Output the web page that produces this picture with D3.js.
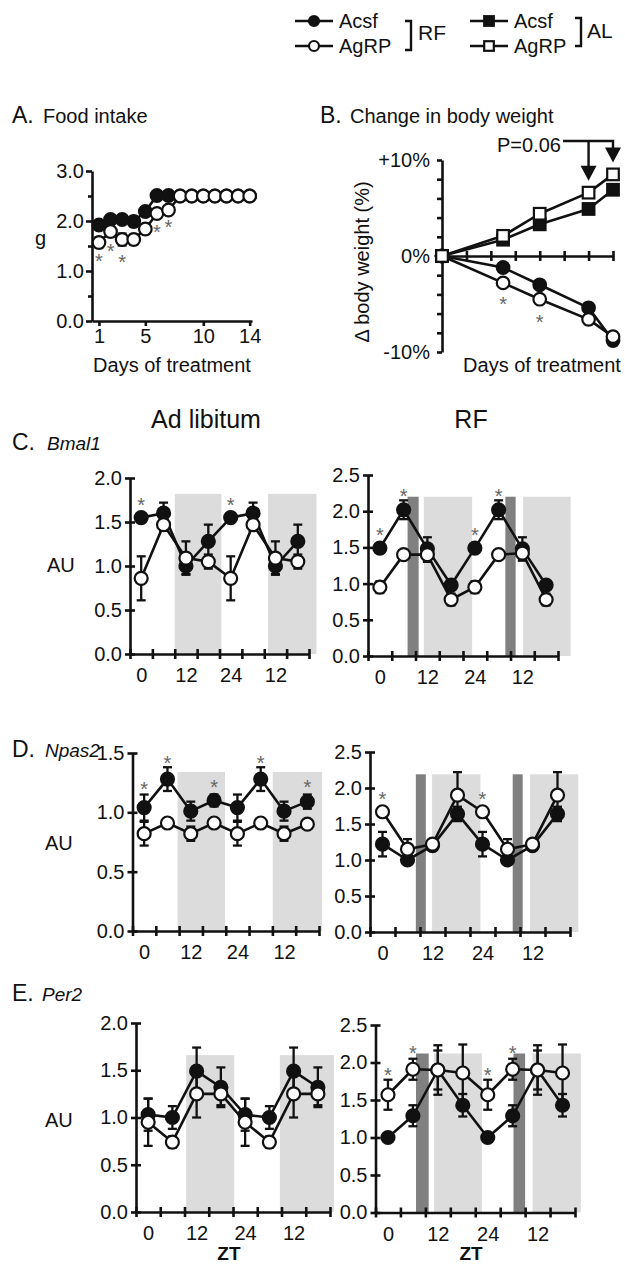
<!DOCTYPE html>
<html><head><meta charset="utf-8">
<script src="https://cdn.jsdelivr.net/npm/d3@7"></script>
<style>body{margin:0;background:#fff;}</style>
</head><body>
<svg id="fig" width="625" height="1264"></svg>
<script>
// ---------------- DATA ----------------
const foodDays = [1,2,3,4,5,6,7,8,9,10,11,12,13,14];
const foodAcsf = [1.92,2.03,2.03,1.99,2.19,2.51,2.51,2.5,2.5,2.5,2.5,2.5,2.5,2.5];
const foodAcsfErr = [0.07,0.05,0.06,0.1,0.08,0.04,0.04,0,0,0,0,0,0,0];
const foodAgrp = [1.57,1.79,1.63,1.63,1.84,2.15,2.22,2.5,2.5,2.5,2.5,2.5,2.5,2.5];
const foodAgrpErr = [0.1,0.1,0.12,0.1,0.1,0.08,0.05,0,0,0,0,0,0,0];
const foodStarDays = [1,2,3,6,7];
const foodStarY = [1.28,1.48,1.27,1.86,1.96];
const foodXTicks = [1,5,10,14];
const foodYTicks = [0,1,2,3];

const bwDays = [0,5,8,12,14];
const bwRFAcsf = [0,-1.2,-3.0,-5.4,-8.8];
const bwRFAgrp = [0,-2.8,-4.5,-6.6,-8.4];
const bwALAcsf = [0,1.7,3.3,4.9,6.9];
const bwALAgrp = [0,2.1,4.4,6.6,8.5];
const bwErr = [0,0.4,0.4,0.5,0.5];
const bwStarDays = [5,8];
const bwStarY = [-4.6,-6.5];
const bwYTickLabels = {"10":"+10%","0":"0%","-10":"-10%"};
const bwArrowDays = [12,14];

const ztHours = [0,6,12,18,24,30,36,42];
const ztTickLabels = ["0","12","24","12"];
const ztTickLabelHours = [0,12,24,36];
const ztMinorTicks = [-3,3,9,15,21,27,33,39,45];

const bmal1ALAcsf = [1.55,1.6,1.0,1.28,1.55,1.6,1.0,1.28];
const bmal1ALAcsfErr = [0.04,0.12,0.09,0.19,0.04,0.12,0.09,0.19];
const bmal1ALAgrp = [0.86,1.47,1.09,1.05,0.86,1.47,1.09,1.05];
const bmal1ALAgrpErr = [0.25,0.07,0.19,0.08,0.25,0.07,0.19,0.08];
const bmal1ALStars = [[0,1.74],[24,1.74]];

const bmal1RFAcsf = [1.49,2.02,1.48,0.98,1.49,2.02,1.48,0.98];
const bmal1RFAcsfErr = [0.05,0.13,0.16,0.05,0.05,0.13,0.16,0.05];
const bmal1RFAgrp = [0.95,1.40,1.40,0.78,0.95,1.40,1.42,0.78];
const bmal1RFAgrpErr = [0.08,0.05,0.1,0.08,0.08,0.05,0.1,0.08];
const bmal1RFStars = [[0,1.72],[6,2.27],[24,1.72],[30,2.27]];

const npas2ALAcsf = [1.04,1.28,1.01,1.10,1.04,1.28,1.01,1.09];
const npas2ALAcsfErr = [0.11,0.1,0.08,0.05,0.11,0.1,0.08,0.06];
const npas2ALAgrp = [0.82,0.91,0.82,0.91,0.82,0.91,0.82,0.90];
const npas2ALAgrpErr = [0.1,0.03,0.06,0.03,0.1,0.03,0.06,0.03];
const npas2ALStars = [[0,1.23],[6,1.45],[18,1.25],[30,1.45],[42,1.25]];

const npas2RFAcsf = [1.22,1.0,1.2,1.64,1.22,1.0,1.2,1.64];
const npas2RFAcsfErr = [0.17,0.05,0.06,0.1,0.17,0.05,0.06,0.1];
const npas2RFAgrp = [1.67,1.15,1.22,1.90,1.67,1.15,1.22,1.90];
const npas2RFAgrpErr = [0.05,0.14,0.05,0.32,0.05,0.14,0.05,0.32];
const npas2RFStars = [[0,1.9],[24,1.9]];

const per2ALAcsf = [1.03,1.0,1.49,1.32,1.03,1.0,1.49,1.32];
const per2ALAcsfErr = [0.17,0.12,0.25,0.21,0.17,0.12,0.25,0.21];
const per2ALAgrp = [0.95,0.74,1.25,1.25,0.95,0.74,1.25,1.25];
const per2ALAgrpErr = [0.25,0.06,0.25,0.12,0.25,0.06,0.25,0.12];
const per2ALStars = [];

const per2RFAcsf = [1.0,1.29,1.9,1.43,1.0,1.29,1.9,1.43];
const per2RFAcsfErr = [0.03,0.14,0.33,0.15,0.03,0.14,0.33,0.15];
const per2RFAgrp = [1.57,1.91,1.9,1.86,1.57,1.91,1.9,1.86];
const per2RFAgrpErr = [0.2,0.14,0.26,0.38,0.2,0.14,0.26,0.38];
const per2RFStars = [[0,1.89],[6,2.18],[24,1.89],[30,2.18]];

// shading (ZT intervals)
const bmal1ALLight = [[9,21.5],[34,47]];
const bmal1RFLight = [[11.1,23.3],[36.2,48.2]];
const bmal1RFDark = [[7,9.8],[31.7,34.3]];
const npas2ALLight = [[8.6,20.8],[33.1,45.8]];
const npas2RFLight = [[11.9,23.5],[35.4,47]];
const npas2RFDark = [[8.0,10.4],[31.25,33.65]];
const per2ALLight = [[9.4,21.3],[32.6,46]];
const per2RFLight = [[11.1,22.6],[34.8,46.4]];
const per2RFDark = [[6.75,9.8],[30.2,33]];

// ---------------- STYLE ----------------
const FONT = '"Liberation Sans", Arial, Helvetica, sans-serif';
const INK = "#111";
const LW = 2.6;
const STARC = "#666";
const LIGHT = "#dcdcdc";
const DARK = "#808080";
const svg = d3.select("#fig");

function label(x, y, s, o = {}) {
  return svg.append("text").attr("x", x).attr("y", y).text(s)
    .attr("font-family", FONT).attr("font-size", o.size || 20)
    .attr("text-anchor", o.anchor || "start")
    .attr("font-style", o.style || "normal")
    .attr("font-weight", o.weight || "normal")
    .attr("fill", o.fill || INK);
}
function star(g, cx, cy) {
  g.append("text").attr("x", cx).attr("y", cy + 11).text("*")
    .attr("font-family", FONT).attr("font-size", 20).attr("text-anchor", "middle").attr("fill", STARC);
}
function drawMarker(g, shape, filled, cx, cy, r) {
  const el = shape === "circle"
    ? g.append("circle").attr("cx", cx).attr("cy", cy).attr("r", r)
    : g.append("rect").attr("x", cx - r).attr("y", cy - r).attr("width", 2 * r).attr("height", 2 * r);
  el.attr("fill", filled ? INK : "#fff").attr("stroke", INK).attr("stroke-width", 2.2);
}
function drawSeries(g, xs, ys, errs, x, y, shape, filled, r) {
  const line = d3.line().x((d, i) => x(xs[i])).y(d => y(d));
  g.append("path").datum(ys).attr("d", line).attr("fill", "none")
    .attr("stroke", INK).attr("stroke-width", LW).attr("stroke-linejoin", "round");
  if (errs) ys.forEach((v, i) => {
    const e = errs[i]; if (!e) return;
    const cx = x(xs[i]), y1 = y(v + e), y2 = y(v - e);
    g.append("line").attr("x1", cx).attr("x2", cx).attr("y1", y1).attr("y2", y2)
      .attr("stroke", INK).attr("stroke-width", 2.3);
    [y1, y2].forEach(yy => g.append("line").attr("x1", cx - 4.5).attr("x2", cx + 4.5)
      .attr("y1", yy).attr("y2", yy).attr("stroke", INK).attr("stroke-width", 2.3));
  });
  ys.forEach((v, i) => drawMarker(g, shape, filled, x(xs[i]), y(v), r));
}
function styleAxis(a) {
  a.attr("font-family", FONT).attr("font-size", 20);
  a.select(".domain").attr("stroke", INK).attr("stroke-width", LW);
  a.selectAll(".tick line").attr("stroke", INK).attr("stroke-width", LW);
  a.selectAll(".tick text").attr("fill", INK);
}

// ---------------- LEGEND ----------------
function legendItem(x1, x2, y, shape, filled, text) {
  svg.append("line").attr("x1", x1).attr("x2", x2).attr("y1", y).attr("y2", y)
    .attr("stroke", INK).attr("stroke-width", LW);
  drawMarker(svg, shape, filled, (x1 + x2) / 2, y, shape === "circle" ? 5 : 4.8);
  label(x2 + 6, y + 7, text);
}
function bracket(x, y1, y2) {
  svg.append("path").attr("d", `M${x - 6},${y1}H${x}V${y2}H${x - 6}`)
    .attr("fill", "none").attr("stroke", INK).attr("stroke-width", 2.4);
}
legendItem(295, 333, 21, "circle", true, "Acsf");
legendItem(295, 333, 46, "circle", false, "AgRP");
bracket(411, 21, 50); label(418, 40, "RF", {size: 21});
legendItem(470, 508, 21, "rect", true, "Acsf");
legendItem(470, 508, 46, "rect", false, "AgRP");
bracket(581, 18, 46); label(587, 38, "AL", {size: 21});

// ---------------- PANEL A ----------------
{
  label(12, 123, "A.", {size: 23}); label(43, 123, "Food intake");
  const x = d3.scaleLinear().domain([0.4, 14.2]).range([92, 252]);
  const y = d3.scaleLinear().domain([0, 3]).range([321, 171]);
  const g = svg.append("g");
  const ya = g.append("g").attr("transform", `translate(${x(0.4)},0)`)
    .call(d3.axisLeft(y).tickValues(foodYTicks).tickFormat(d3.format(".1f")).tickSizeInner(6).tickSizeOuter(0).tickPadding(2));
  styleAxis(ya);
  const ym = g.append("g").attr("transform", `translate(${x(0.4)},0)`)
    .call(d3.axisLeft(y).tickValues([0.5, 1.5, 2.5]).tickFormat("").tickSizeInner(4).tickSizeOuter(0));
  styleAxis(ym); ym.select(".domain").remove();
  const xa = g.append("g").attr("transform", `translate(0,${y(0)})`)
    .call(d3.axisBottom(x).tickValues(foodXTicks).tickFormat(d3.format("d")).tickSizeInner(5).tickSizeOuter(0).tickPadding(3));
  styleAxis(xa);
  drawSeries(g, foodDays, foodAcsf, foodAcsfErr, x, y, "circle", true, 6.3);
  drawSeries(g, foodDays, foodAgrp, foodAgrpErr, x, y, "circle", false, 6.3);
  foodStarDays.forEach((d, i) => star(g, x(d), y(foodStarY[i])));
  label(35, 245, "g");
  label(172, 372, "Days of treatment", {anchor: "middle"});
}

// ---------------- PANEL B ----------------
{
  label(320, 123, "B.", {size: 23}); label(350, 123, "Change in body weight");
  const x = d3.scaleLinear().domain([0, 14]).range([442, 613]);
  const y = d3.scaleLinear().domain([-10, 10]).range([352, 160]);
  const g = svg.append("g");
  const ya = g.append("g").attr("transform", `translate(${x(0)},0)`)
    .call(d3.axisLeft(y).tickValues(d3.range(-10, 10.1, 2))
      .tickFormat(v => bwYTickLabels[String(Math.round(v))] || "").tickSizeInner(5).tickSizeOuter(0).tickPadding(7));
  styleAxis(ya);
  const xa = g.append("g").attr("transform", `translate(0,${y(0)})`)
    .call(d3.axisBottom(x).tickValues(d3.range(2, 14.1, 2)).tickFormat("").tickSizeInner(5).tickSizeOuter(0));
  styleAxis(xa); xa.selectAll(".tick line").attr("y1", -5);
  drawSeries(g, bwDays, bwRFAcsf, bwErr, x, y, "circle", true, 6.3);
  drawSeries(g, bwDays, bwRFAgrp, bwErr, x, y, "circle", false, 6.3);
  drawSeries(g, bwDays, bwALAcsf, bwErr, x, y, "rect", true, 5.8);
  drawSeries(g, bwDays, bwALAgrp, bwErr, x, y, "rect", false, 5.8);
  bwStarDays.forEach((d, i) => star(g, x(d), y(bwStarY[i])));
  // P=0.06 arrows
  label(497, 152, "P=0.06");
  const topY = 141;
  const xs = bwArrowDays.map(d => x(d));
  const tips = bwArrowDays.map(d => y(bwALAgrp[bwDays.indexOf(d)]) - 12);
  g.append("path").attr("d", `M563,${topY}H${xs[1]}V${tips[1] - 13}M${xs[0]},${topY}V${tips[0] - 13}`)
    .attr("fill", "none").attr("stroke", INK).attr("stroke-width", 2.4);
  xs.forEach((xx, i) => g.append("path").attr("d", `M${xx - 8},${tips[i] - 15}H${xx + 8}L${xx},${tips[i]}Z`).attr("fill", INK));
  label(0, 0, "\u0394 body weight (%)", {anchor: "middle"}).attr("transform", "translate(369,262) rotate(-90)");
  label(542, 372, "Days of treatment", {anchor: "middle"});
}

// ---------------- ZT PANELS ----------------
function ztPanel(c, d) {
  const x = d3.scaleLinear().domain([-3, 45]).range(c.xr);
  const y = d3.scaleLinear().domain([0, c.ymax]).range(c.yr);
  const g = svg.append("g");
  d.light.forEach(([a, b]) => g.append("rect").attr("x", x(a)).attr("y", y(c.shadeTop))
    .attr("width", x(b) - x(a)).attr("height", y(0) - y(c.shadeTop)).attr("fill", LIGHT));
  (d.dark || []).forEach(([a, b]) => g.append("rect").attr("x", x(a)).attr("y", y(c.shadeTop))
    .attr("width", x(b) - x(a)).attr("height", y(0) - y(c.shadeTop)).attr("fill", DARK));
  const ya = g.append("g").attr("transform", `translate(${x(-3)},0)`)
    .call(d3.axisLeft(y).tickValues(d3.range(0, c.ymax + 0.01, 0.5)).tickFormat(d3.format(".1f"))
      .tickSizeInner(5).tickSizeOuter(0).tickPadding(3));
  styleAxis(ya); ya.selectAll(".tick line").attr("x1", 5);
  const xa = g.append("g").attr("transform", `translate(0,${y(0)})`)
    .call(d3.axisBottom(x).tickValues(ztMinorTicks).tickFormat("").tickSizeInner(5).tickSizeOuter(0));
  styleAxis(xa); xa.selectAll(".tick line").attr("y1", -5);
  const xl = g.append("g").attr("transform", `translate(0,${y(0)})`)
    .call(d3.axisBottom(x).tickValues(ztTickLabelHours).tickFormat((v, i) => ztTickLabels[i]).tickSize(0).tickPadding(14));
  styleAxis(xl); xl.select(".domain").remove();
  drawSeries(g, ztHours, d.acsf, d.acsfErr, x, y, "circle", true, 6.5);
  drawSeries(g, ztHours, d.agrp, d.agrpErr, x, y, "circle", false, 6.5);
  d.stars.forEach(([h, v]) => star(g, x(h), y(v)));
  return x;
}

label(206, 428, "Ad libitum", {anchor: "middle", size: 25});
label(471, 428, "RF", {anchor: "middle", size: 25});

label(12, 450, "C.", {size: 23}); label(47, 450, "Bmal1", {style: "italic", size: 19});
label(47, 572, "AU");
ztPanel({xr: [130, 309], yr: [654, 478], ymax: 2, shadeTop: 1.82},
  {light: bmal1ALLight, acsf: bmal1ALAcsf, acsfErr: bmal1ALAcsfErr, agrp: bmal1ALAgrp, agrpErr: bmal1ALAgrpErr, stars: bmal1ALStars});
ztPanel({xr: [368, 558], yr: [656, 475], ymax: 2.5, shadeTop: 2.2},
  {light: bmal1RFLight, dark: bmal1RFDark, acsf: bmal1RFAcsf, acsfErr: bmal1RFAcsfErr, agrp: bmal1RFAgrp, agrpErr: bmal1RFAgrpErr, stars: bmal1RFStars});

label(12, 757, "D.", {size: 23}); label(45, 757, "Npas2", {style: "italic", size: 19});
label(45, 850, "AU");
ztPanel({xr: [132.5, 319], yr: [931, 753], ymax: 1.5, shadeTop: 1.34},
  {light: npas2ALLight, acsf: npas2ALAcsf, acsfErr: npas2ALAcsfErr, agrp: npas2ALAgrp, agrpErr: npas2ALAgrpErr, stars: npas2ALStars});
ztPanel({xr: [370, 570], yr: [932, 752], ymax: 2.5, shadeTop: 2.19},
  {light: npas2RFLight, dark: npas2RFDark, acsf: npas2RFAcsf, acsfErr: npas2RFAcsfErr, agrp: npas2RFAgrp, agrpErr: npas2RFAgrpErr, stars: npas2RFStars});

label(12, 1001, "E.", {size: 23}); label(42, 1001, "Per2", {style: "italic", size: 19});
label(45, 1127, "AU");
const xEL = ztPanel({xr: [136, 330], yr: [1212, 1023], ymax: 2, shadeTop: 1.66},
  {light: per2ALLight, acsf: per2ALAcsf, acsfErr: per2ALAcsfErr, agrp: per2ALAgrp, agrpErr: per2ALAgrpErr, stars: per2ALStars});
const xER = ztPanel({xr: [375.5, 575], yr: [1212.5, 1025], ymax: 2.5, shadeTop: 2.12},
  {light: per2RFLight, dark: per2RFDark, acsf: per2RFAcsf, acsfErr: per2RFAcsfErr, agrp: per2RFAgrp, agrpErr: per2RFAgrpErr, stars: per2RFStars});
label(xEL(20), 1260, "ZT", {anchor: "middle", weight: "bold", size: 19});
label(xER(20), 1260, "ZT", {anchor: "middle", weight: "bold", size: 19});
</script>
</body></html>
